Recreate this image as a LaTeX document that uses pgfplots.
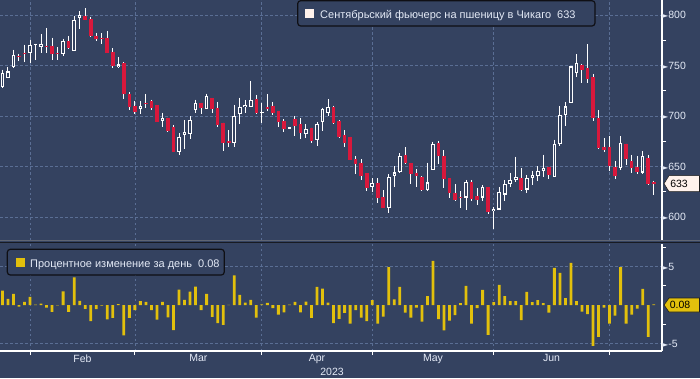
\documentclass[border=0pt]{standalone}
\usepackage{fontspec}
\setmainfont{Liberation Sans}
\newfontfamily\dejavu{DejaVu Sans}
\usepackage{pgfplots}
\pgfplotsset{compat=1.18}
\usepackage{pgfplotstable}

\definecolor{bg}{RGB}{52,66,96}
\definecolor{gridc}{RGB}{90,110,148}
\definecolor{candlered}{RGB}{216,24,60}
\definecolor{barY}{RGB}{226,192,12}
\definecolor{txt}{RGB}{228,234,246}
\definecolor{cream}{RGB}{255,242,236}

% up candles: index open high low close
\pgfplotstableread{
i o h l c
0 728.8 746.0 727.5 742.2
1 737.6 748.6 737.6 744.1
2 748.4 765.7 747.7 760.5
5 762.1 775.5 752.3 770.3
6 770.3 771.6 755.9 770.6
7 768.0 781.4 762.1 771.2
11 761.4 776.5 759.8 774.2
13 764.4 799.0 764.4 795.1
14 797.4 803.9 786.6 800.0
21 748.7 758.5 747.7 751.0
25 707.2 714.9 702.3 709.9
29 695.3 703.3 689.1 698.3
32 664.6 682.9 661.4 679.2
33 681.5 696.0 667.3 683.9
34 682.2 700.0 677.2 696.0
35 706.0 716.1 703.3 712.9
37 707.2 722.1 706.6 719.8
42 673.0 710.9 669.0 700.0
43 701.7 718.1 692.4 709.2
44 708.6 715.8 703.3 710.9
45 709.2 734.7 709.2 715.8
47 703.2 713.2 693.4 703.7
52 687.6 688.4 687.6 688.4
55 682.5 691.8 677.9 687.1
57 676.2 694.1 670.6 691.8
58 694.4 708.2 685.4 706.6
59 703.3 716.8 700.0 708.6
67 629.9 638.2 625.0 633.6
70 608.6 642.1 604.3 639.5
71 640.8 650.0 629.6 644.1
72 644.7 663.2 643.8 660.2
77 626.6 653.9 626.0 634.2
78 646.1 674.7 646.1 672.0
84 619.2 636.8 607.3 634.8
87 619.2 631.8 616.2 629.9
89 605.6 609.6 588.0 608.3
90 607.3 629.5 607.3 624.5
91 622.2 636.2 616.2 632.5
92 632.5 643.8 629.2 636.5
93 636.5 659.7 634.5 639.8
95 627.2 641.8 624.2 638.5
96 638.5 645.8 631.2 641.8
97 640.5 650.4 635.2 645.8
98 645.1 661.7 639.2 648.4
100 639.2 676.7 639.2 672.7
101 672.0 709.8 670.0 701.2
102 701.2 713.5 689.9 709.5
103 713.2 749.0 713.2 749.0
104 742.3 761.3 738.9 752.8
112 648.3 679.9 646.7 673.5
116 644.0 664.9 642.3 660.3
}\upc

% down candles
\pgfplotstableread{
i o h l c
3 759.8 761.8 754.2 758.2
4 762.7 770.6 753.6 761.1
8 769.3 787.3 762.1 768.0
9 769.6 777.5 755.6 761.1
10 761.8 768.0 755.9 761.1
12 774.6 779.4 766.3 767.0
15 798.7 806.5 794.8 795.4
16 796.1 798.0 778.4 779.4
17 778.8 782.4 774.5 775.8
18 776.8 781.7 771.6 775.8
19 776.8 784.3 762.1 762.1
20 763.7 767.0 747.7 749.3
22 752.2 753.5 717.1 721.5
23 721.5 723.5 705.9 709.2
24 709.9 714.9 702.0 704.3
26 712.9 721.8 707.9 711.9
27 715.2 716.1 706.2 708.2
28 710.9 710.9 694.1 694.1
30 698.3 698.3 683.9 685.4
31 689.4 691.1 664.1 664.6
36 712.9 712.9 702.0 707.6
38 717.8 717.8 703.3 707.2
39 707.6 713.9 689.1 691.1
40 693.4 693.4 665.6 673.6
41 675.2 686.1 669.6 673.6
46 716.8 720.8 702.0 702.7
48 708.6 721.8 705.0 706.6
49 709.9 713.9 701.0 703.3
50 705.0 705.0 688.8 694.4
51 695.0 696.7 684.5 687.4
53 696.7 700.0 680.5 690.4
54 692.1 698.0 677.5 683.5
56 688.4 688.4 673.6 675.2
60 708.6 710.2 691.8 692.8
61 695.0 696.0 678.5 679.5
62 680.9 686.1 669.6 672.9
63 679.3 679.3 656.6 656.6
64 657.6 660.2 642.8 652.3
65 653.6 657.2 636.5 640.8
66 643.4 643.4 626.0 628.9
68 633.9 638.2 614.1 618.4
69 620.1 626.3 608.6 608.6
73 661.8 668.8 652.0 653.6
74 653.6 653.6 632.6 642.4
75 643.8 647.4 629.9 640.5
76 639.8 640.5 626.0 626.6
79 673.4 675.3 652.3 660.2
80 660.2 666.1 628.9 637.5
81 638.2 638.2 619.1 624.0
82 623.4 632.2 615.8 616.4
83 619.1 625.7 608.6 618.4
85 634.8 636.8 616.2 618.2
86 620.6 628.9 612.3 617.2
88 629.9 629.9 603.0 605.0
94 638.5 648.4 626.2 626.9
99 649.8 649.8 637.5 641.5
105 750.2 751.5 733.0 745.6
106 747.6 770.8 733.0 736.9
107 738.6 741.6 694.8 698.1
108 698.1 705.7 667.2 668.2
109 669.2 678.2 663.9 666.2
110 669.2 679.9 645.3 650.0
111 649.0 655.0 637.4 640.4
113 672.6 672.6 651.6 657.3
114 655.6 661.6 643.3 648.3
115 649.0 660.3 642.3 645.0
117 658.0 661.6 632.0 632.5
118 634.5 636.0 622.0 633.0
}\dnc

% daily percent change
\pgfplotstableread{
i p
0 1.86
1 0.80
2 1.46
3 -0.20
4 0.40
5 1.06
6 0.05
7 0.18
8 -0.35
9 -0.88
10 -0.04
11 1.77
12 -0.88
13 3.58
14 0.53
15 -0.49
16 -2.08
17 -0.53
18 -0.09
19 -1.86
20 -1.68
21 0.10
22 -3.94
23 -1.68
24 -0.66
25 0.49
26 0.40
27 -0.66
28 -1.90
29 0.40
30 -1.60
31 -3.27
32 1.99
33 0.66
34 1.73
35 2.39
36 -0.66
37 1.46
38 -1.55
39 -2.35
40 -2.57
41 0.03
42 3.85
43 1.33
44 0.31
45 0.66
46 -1.64
47 0.08
48 0.27
49 -0.40
50 -1.24
51 -0.97
52 0.05
53 0.40
54 -0.97
55 0.44
56 -1.68
57 2.35
58 2.12
59 0.31
60 -2.35
61 -1.81
62 -1.02
63 -2.43
64 -0.65
65 -1.65
66 -2.09
67 0.65
68 -2.43
69 -1.52
70 4.91
71 0.74
72 2.35
73 -1.00
74 -1.65
75 -0.35
76 -2.17
77 1.17
78 5.74
79 -1.83
80 -3.30
81 -2.04
82 -1.30
83 0.26
84 2.48
85 -2.43
86 -0.39
87 1.96
88 -3.87
89 0.39
90 2.61
91 1.17
92 0.52
93 0.52
94 -1.96
95 1.70
96 0.39
97 0.65
98 0.26
99 -1.00
100 4.83
101 4.17
102 0.91
103 5.48
104 0.52
105 -0.87
106 -1.17
107 -5.30
108 -4.13
109 -0.35
110 -2.43
111 -1.39
112 4.91
113 -2.43
114 -1.26
115 -0.48
116 2.09
117 -4.13
118 0.08
}\pct

\pgfplotsset{
  chart/.style={
    scale only axis, width=662bp,
    xmin=-0.435, xmax=119.5,
    enlargelimits=false,
    axis y line*=right, axis x line*=bottom,
    ytick pos=right,
    xmajorgrids, ymajorgrids,
    grid style={draw=gridc, dash pattern=on 2.5bp off 2.5bp, line width=0.7bp},
    xtick={5,24,47,67,89,110}, xticklabels={},
    tick style={draw=white, line width=0.8bp},
    major tick length=4bp, minor tick length=4bp,
    tick align=outside,
    major y tick style={draw=none},
    y axis line style={draw=white, line width=1.1bp},
    tick label style={font=\fontsize{10.5bp}{12bp}\selectfont, text=txt},
    /pgf/number format/assume math mode=true,
    yticklabel={{\dejavu\fontsize{8bp}{8bp}\selectfont ►}\pgfmathprintnumber{\tick}},
    yticklabel style={anchor=west, inner sep=0pt, xshift=-4bp},
  },
  wick/.style={draw=none, mark=none, forget plot,
    error bars/.cd, y dir=minus, y explicit, error mark=none,
    error bar style={draw=white, line width=1bp, solid}},
}

\begin{document}
\begin{tikzpicture}[x=1bp,y=1bp]
\fill[bg] (0,0) rectangle (700,378);

% ---------- upper panel: candlesticks ----------
\begin{scope}[yshift=138bp]
\begin{axis}[chart, height=240bp,
    ymin=577.2, ymax=814.85,
    ytick={600,650,700,750,800}, minor ytick={625,675,725,775},
    x axis line style={draw=none}, xtick style={draw=none}]
  % wicks
  \addplot[wick] table[x=i, y=h, y error minus expr={\thisrow{h}-\thisrow{l}}] {\upc};
  \addplot[wick] table[x=i, y=h, y error minus expr={\thisrow{h}-\thisrow{l}}] {\dnc};
  % up bodies (hollow)
  \addplot[draw=none, mark=none, forget plot,
    error bars/.cd, y dir=minus, y explicit, error mark=none,
    error bar style={draw=white, line width=3.6bp, solid}]
    table[x=i, y expr={max(\thisrow{c},\thisrow{o}+1.2)},
          y error minus expr={max(\thisrow{c}-\thisrow{o},1.2)}] {\upc};
  \addplot[draw=none, mark=none, forget plot,
    error bars/.cd, y dir=minus, y explicit, error mark=none,
    error bar style={draw=bg, line width=1.6bp, solid}]
    table[x=i, y expr={\thisrow{c}-1.1},
          y error minus expr={max(\thisrow{c}-\thisrow{o}-2.2,0)}] {\upc};
  % down bodies (filled red)
  \addplot[draw=none, mark=none, forget plot,
    error bars/.cd, y dir=minus, y explicit, error mark=none,
    error bar style={draw=candlered, line width=3.6bp, solid}]
    table[x=i, y expr={max(\thisrow{o},\thisrow{c}+1.2)},
          y error minus expr={max(\thisrow{o}-\thisrow{c},1.2)}] {\dnc};
  \coordinate (tagA) at (axis cs:119.5,633);
\end{axis}
\end{scope}

% ---------- lower panel: daily % change ----------
\begin{scope}[yshift=27bp]
\begin{axis}[chart, height=107bp,
    ymin=-5.97, ymax=7.92,
    ytick={-5,5}, minor ytick={-2.5,2.5,7.5},
    x axis line style={draw=white, line width=1.1bp},
    extra x ticks={14.5,35.5,57,78,99.5},
    extra x tick labels={Feb,Mar,Apr,May,Jun},
    extra x tick style={major tick length=0bp, grid=none}]
  \addplot[ybar, bar width=2.8bp, fill=barY, draw=none] table[x=i, y=p] {\pct};
  \coordinate (tagB) at (axis cs:119.5,0);
\end{axis}
\end{scope}

% separator between panels
\draw[draw={rgb,255:red,95;green,101;blue,115}, line width=1.3bp] (0,137.3) -- (700,137.3);
\draw[draw={rgb,255:red,24;green,27;blue,34}, line width=1.6bp] (0,135.6) -- (700,135.6);

% year label
\node[text=txt, font=\fontsize{10.5bp}{12bp}\selectfont] at (332,6) {2023};

% last value tags
\begin{scope}[shift={(tagA)}]
  \filldraw[fill=cream, draw={rgb,255:red,30;green,30;blue,30}, line width=0.6bp]
    (2,0) -- (7,8) -- (37.5,8) -- (37.5,-8) -- (7,-8) -- cycle;
  \node[text=black, font=\fontsize{10.5bp}{12bp}\selectfont] at (17,0) {633};
\end{scope}
\begin{scope}[shift={(tagB)}]
  \filldraw[fill=barY, draw={rgb,255:red,30;green,30;blue,30}, line width=0.6bp]
    (2,0) -- (7,7) -- (37.5,7) -- (37.5,-7) -- (7,-7) -- cycle;
  \node[text=black, font=\fontsize{10.5bp}{12bp}\selectfont] at (18,0) {0.08};
\end{scope}

% legends
\filldraw[fill=bg, draw={rgb,255:red,15;green,15;blue,20}, line width=1.2bp, rounded corners=3bp]
  (297.7,377.3) rectangle (595,352);
\fill[cream] (305,369) rectangle (314,360);
\node[anchor=base west, inner sep=0pt, text=txt, font=\fontsize{11bp}{13bp}\selectfont]
  at (320,359.7) {Сентябрьский фьючерс на пшеницу в Чикаго\ \ 633};

\filldraw[fill=bg, draw={rgb,255:red,15;green,15;blue,20}, line width=1.2bp, rounded corners=3bp]
  (7.3,128.7) rectangle (224.3,103);
\fill[barY] (15.7,120) rectangle (25,111);
\node[anchor=base west, inner sep=0pt, text=txt, font=\fontsize{11bp}{13bp}\selectfont]
  at (30,110.7) {Процентное изменение за день\ \ 0.08};

\pgfresetboundingbox
\path[use as bounding box] (0,0) rectangle (700,378);
\end{tikzpicture}
\end{document}
